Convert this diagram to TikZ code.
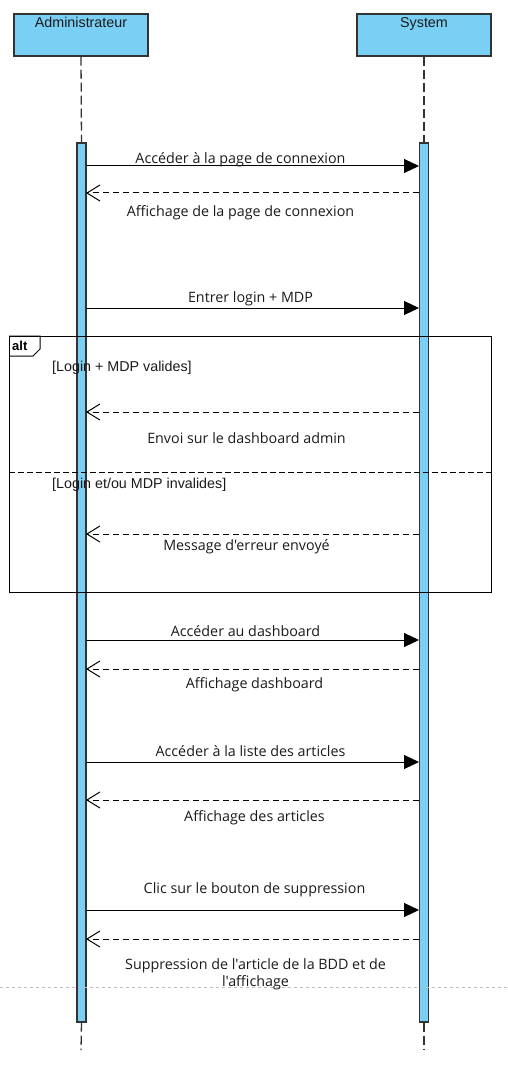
\documentclass[tikz,border=0pt]{standalone}
\usepackage{fontspec}
\newfontfamily\msgfont{Open Sans}
\newfontfamily\arialfont{Liberation Sans}
\usetikzlibrary{arrows.meta}
\definecolor{barblue}{HTML}{7ACFF5}
\definecolor{edge}{HTML}{333333}
\definecolor{txt}{HTML}{1A1A1A}
\begin{document}
\begin{tikzpicture}[x=1pt,y=-1pt,
  actor/.style={draw=edge, fill=barblue, line width=1.2pt, minimum width=134pt, minimum height=42pt, inner sep=0pt},
  bar/.style={draw=edge, fill=barblue, line width=1.2pt, minimum width=9pt, minimum height=879pt, inner sep=0pt},
  life/.style={draw=edge, line width=1.3pt, dash pattern=on 9pt off 4pt},
  call/.style={line width=1pt, -{Triangle[length=15pt,width=14pt]}},
  reply/.style={line width=1pt, dash pattern=on 6pt off 4pt, -{Straight Barb[length=13pt,width=16pt]}},
  msg/.style={font=\msgfont\fontsize{14.3}{17}\selectfont, text=txt, inner sep=0pt, align=center},
  guard/.style={font=\arialfont\fontsize{14.3}{16}\selectfont, text=txt, anchor=west, inner sep=0pt}]
  \useasboundingbox (0,0) rectangle (508,1075);

  % Lifeline heads
  \node[actor, label={[anchor=north, inner sep=0pt, yshift=-4pt, text=txt, font=\arialfont\fontsize{14.3}{16}\selectfont]north:Administrateur}] (admin) at (81,35) {};
  \node[actor, label={[anchor=north, inner sep=0pt, yshift=-4pt, text=txt, font=\arialfont\fontsize{14.3}{16}\selectfont]north:System}] (system) at (424,35) {};

  % Lifelines and activation bars
  \coordinate (aend) at (81,1050);
  \coordinate (send) at (424,1050);
  \node[bar] (abar) at (81.5,582.5) {};
  \node[bar] (sbar) at (424,582.5) {};
  \draw[life] (admin.south) -- (abar.north);
  \draw[life] (system.south) -- (sbar.north);
  \draw[life] (abar.south) -- (aend);
  \draw[life] (sbar.south) -- (send);

  % Message ends
  \foreach \n/\y in {1/166,2/193,3/308,4/412,5/534,6/640,7/669,8/762,9/800,10/910,11/939} {
    \coordinate (a\n) at (86,\y);
    \coordinate (s\n) at (419,\y);
  }

  % alt fragment
  \coordinate (altnw) at (9,336);
  \coordinate (altse) at (491,592);
  \coordinate (sepw) at (9,472);
  \coordinate (sepe) at (491,472);
  \draw[line width=1pt] (altnw) rectangle (altse);
  \draw[line width=1pt] (altnw) -- (40,336) -- (40,349) -- (33,356) -- (9,356);
  \node[font=\arialfont\bfseries\fontsize{13}{15}\selectfont, anchor=west, inner sep=0pt] (alt) at (12,346) {alt};
  \draw[line width=1pt, dash pattern=on 6pt off 3pt] (sepw) -- (sepe);
  \node[guard] (g1) at (52,368) {[Login + MDP valides]};
  \node[guard] (g2) at (52,485) {[Login et/ou MDP invalides]};

  % Messages
  \draw[call] (a1) -- (s1) node[msg, midway, yshift=6pt, xshift=-12pt] {Accéder à la page de connexion};
  \draw[reply] (s2) -- (a2) node[msg, midway, yshift=-20pt, xshift=-12pt] {Affichage de la page de connexion};
  \draw[call] (a3) -- (s3) node[msg, midway, yshift=9pt, xshift=-2pt] {Entrer login + MDP};
  \draw[reply] (s4) -- (a4) node[msg, midway, yshift=-26pt, xshift=-6pt] {Envoi sur le dashboard admin};
  \draw[reply] (s5) -- (a5) node[msg, midway, yshift=-13pt, xshift=-6pt] {Message d'erreur envoyé};
  \draw[call] (a6) -- (s6) node[msg, midway, yshift=9pt, xshift=-7pt] {Accéder au dashboard};
  \draw[reply] (s7) -- (a7) node[msg, midway, yshift=-16pt, xshift=2pt] {Affichage dashboard};
  \draw[call] (a8) -- (s8) node[msg, midway, yshift=11pt, xshift=-2pt] {Accéder à la liste des articles};
  \draw[reply] (s9) -- (a9) node[msg, midway, yshift=-18pt, xshift=2pt] {Affichage des articles};
  \draw[call] (a10) -- (s10) node[msg, midway, yshift=20pt, xshift=2pt] {Clic sur le bouton de suppression};
  \draw[reply] (s11) -- (a11) node[msg, midway, yshift=-35pt, xshift=3pt] {Suppression de l'article de la BDD et de\\l'affichage};

  % Page break guide
  \coordinate (pagew) at (0,987);
  \coordinate (pagee) at (508,987);
  \draw[black!25, line width=0.6pt, dash pattern=on 3pt off 3pt] (pagew) -- (pagee);
\end{tikzpicture}
\end{document}
